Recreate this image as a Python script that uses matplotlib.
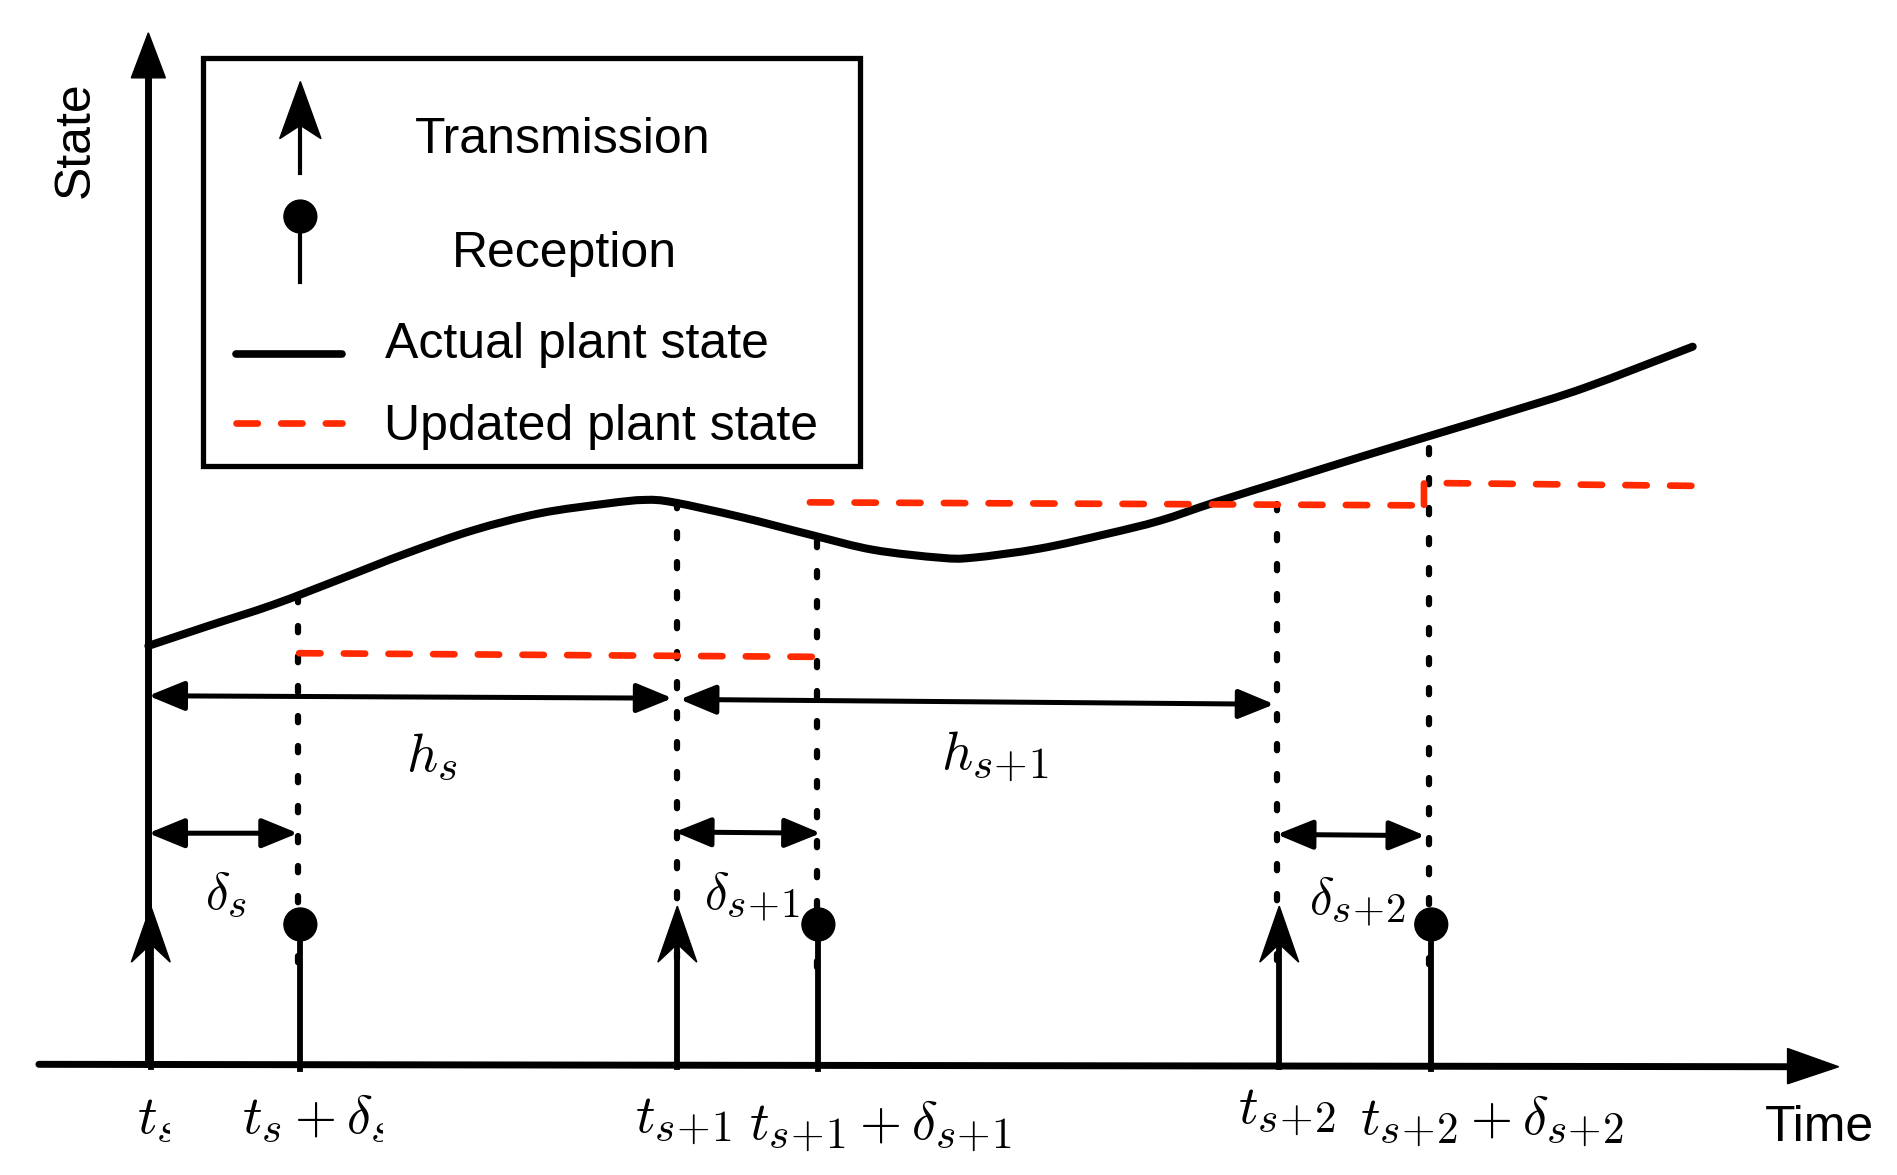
import matplotlib
matplotlib.use('Agg')
import matplotlib.pyplot as plt
import matplotlib._mathtext as mathtext_internals
import numpy as np
from matplotlib.patches import Polygon, Ellipse, FancyArrowPatch, Rectangle, PathPatch
from matplotlib.path import Path
from matplotlib.transforms import Bbox

plt.rcParams['font.family'] = ['Liberation Sans', 'DejaVu Sans']
plt.rcParams['mathtext.fontset'] = 'cm'
# LaTeX style subscripts are a bit larger than mathtext's default
mathtext_internals.SHRINK_FACTOR = 0.8

# picture units: x to the right, y downwards (1560 x 966 frame)
curve_x = [122, 170, 225, 280, 334, 389, 444, 499, 530, 554, 609, 668, 718, 773,
           800, 855, 910, 954, 999, 1060, 1121, 1182, 1243, 1304, 1392]
curve_y = [531, 515, 497, 476, 455, 436, 422, 414, 411, 413, 425, 440, 452, 458.5,
           458.5, 451, 439, 428, 413, 394, 375, 356.5, 338, 318.5, 285]

send_t = [124, 557, 1052]          # transmission instants
recv_t = [247, 673, 1177]          # reception instants
guide_x = [245, 557, 672, 1050, 1175]
guide_top = [490, 413, 445, 414, 368]

upd_x = [[246, 670], [666, 1174], [1171, 1171, 1398]]
upd_y = [[537, 540], [413, 415.5], [415, 397, 399.5]]

h_arrows = [(122, 572, 553, 574), (559, 575, 1048, 579)]
h_labels = [r'$h_s$', r'$h_{s\!+\!1}$']
h_pos = [(355, 622), (818, 622)]

d_arrows = [(122, 685, 245, 685), (555, 684, 675, 685), (1050, 686, 1172, 687)]
d_labels = [r'$\delta_s$', r'$\delta_{s\!+\!1}$', r'$\delta_{s\!+\!2}$']
d_pos = [(186, 735), (618, 737), (1116, 741)]

tick_labels = [r'$t_s$', r'$t_s+\delta_s$', r'$t_{s\!+\!1}$',
               r'$t_{s\!+\!1}+\delta_{s\!+\!1}$', r'$t_{s\!+\!2}$',
               r'$t_{s\!+\!2}+\delta_{s\!+\!2}$']
tick_left = [113, 199, 522, 616, 1018, 1118]
tick_base = [931, 931, 930, 936, 923, 932]
tick_clip = [140, 315, None, None, None, None]

RED = '#ff2a00'
AXIS_Y = 875

fig = plt.figure(figsize=(18.97, 11.75), dpi=100)
ax = fig.add_axes([0, 0, 1, 1])
ax.set_xlim(0, 1560)
ax.set_ylim(966, 0)
ax.axis('off')

# axes
ax.plot([32, 1480], [AXIS_Y, 877], color='black', lw=5, solid_capstyle='round')
ax.add_patch(Polygon([[1470, 862], [1512, 877], [1470, 891]], closed=True,
                     color='black'))
ax.plot([122, 122], [AXIS_Y, 60], color='black', lw=5)
ax.add_patch(Polygon([[108, 64], [122, 27], [136, 64]], closed=True, color='black'))
ax.text(62, 115, 'State', rotation=90, fontsize=36, ha='center', va='center')
ax.text(1496, 927, 'Time', fontsize=36, ha='center', va='center')

# dotted guides
for x, top in zip(guide_x, guide_top):
    ax.plot([x, x], [top, 800], color='black', lw=4.5, dashes=(1.0, 3.8),
            dash_capstyle='round', zorder=1)

# actual plant state: smooth path through the read points (Catmull-Rom)
pts = np.column_stack([curve_x, curve_y])
verts = [pts[0]]
codes = [Path.MOVETO]
for i in range(len(pts) - 1):
    p0 = pts[max(i - 1, 0)]
    p1, p2 = pts[i], pts[i + 1]
    p3 = pts[min(i + 2, len(pts) - 1)]
    verts += [p1 + (p2 - p0) / 6, p2 - (p3 - p1) / 6, p2]
    codes += [Path.CURVE4] * 3
ax.add_patch(PathPatch(Path(verts, codes), fill=False, lw=5.8, ec='black',
                       capstyle='round', zorder=3))

# updated plant state
for xs, ys in zip(upd_x, upd_y):
    ax.plot(xs, ys, color=RED, lw=4.8, dashes=(3.2, 3.5), dash_capstyle='round',
            zorder=4)


def send_arrow(x, y0, tip, half_w, length, notch, lw):
    ax.plot([x, x], [y0, tip + notch], color='black', lw=lw, zorder=5)
    ax.add_patch(Polygon([[x, tip], [x + half_w, tip + length], [x, tip + notch],
                          [x - half_w, tip + length]], closed=True, color='black',
                         zorder=5))


def recv_stem(x, y0, yd, r, lw):
    ax.plot([x, x], [y0, yd], color='black', lw=lw, zorder=5)
    ax.add_patch(Ellipse((x, yd), 2 * r, 2 * r, color='black', zorder=6))


for t in send_t:
    send_arrow(t, AXIS_Y + 2, 745, 16, 46, 31, 4.2)
for t in recv_t:
    recv_stem(t, AXIS_Y + 4, 760, 13.5, 4.2)

# interval arrows
for x0, y0, x1, y1 in h_arrows + d_arrows:
    ax.add_patch(FancyArrowPatch((x0, y0), (x1, y1),
                                 arrowstyle='<|-|>,head_length=22,head_width=9',
                                 mutation_scale=1, lw=3.6, color='black',
                                 shrinkA=0, shrinkB=0, zorder=5))
for s, (x, y) in zip(h_labels, h_pos):
    ax.text(x, y, s, fontsize=39, ha='center', va='center')
for s, (x, y) in zip(d_labels, d_pos):
    ax.text(x, y, s, fontsize=37, ha='center', va='center')

# time labels (the first two are cut off at the right in the original)
for s, x, y, c in zip(tick_labels, tick_left, tick_base, tick_clip):
    txt = ax.text(x, y, s, fontsize=39, ha='left', va='baseline')
    if c is not None:
        xc = ax.transData.transform((c, 0))[0]
        txt.set_clip_box(Bbox.from_extents(0, 0, xc, fig.bbox.height))
        txt.set_clip_path(None)
        txt.set_clip_on(True)

# legend box
ax.add_patch(Rectangle((167, 48), 540, 335, fill=False, lw=3.8, ec='black',
                       zorder=7))
send_arrow(247, 142, 67, 17, 47, 36, 3)
recv_stem(247, 232, 178, 13.5, 3)
ax.plot([194, 281], [291, 291], color='black', lw=5.5, solid_capstyle='round')
ax.plot([194, 281], [348, 348], color=RED, lw=4.8, dashes=(3.2, 3.5),
        dash_capstyle='round')
ax.text(463, 115, 'Transmission', fontsize=36, ha='center', va='center')
ax.text(464, 209, 'Reception', fontsize=36, ha='center', va='center')
ax.text(317, 284, 'Actual plant state', fontsize=36, ha='left', va='center')
ax.text(316, 351, 'Updated plant state', fontsize=36, ha='left', va='center')

fig.savefig('out.png', dpi=100)
